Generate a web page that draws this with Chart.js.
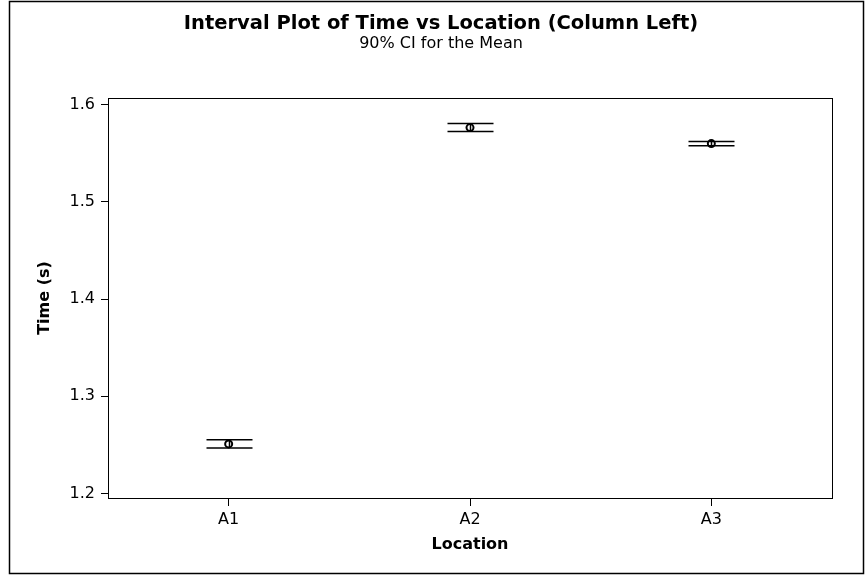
<!DOCTYPE html>
<html>
<head>
<meta charset="utf-8">
<title>Interval Plot of Time vs Location</title>
<script src="https://cdn.jsdelivr.net/npm/chart.js@4/dist/chart.umd.min.js"></script>
<style>
	html, body { margin: 0; padding: 0; background: #fff; }
	#wrap { position: relative; width: 865px; height: 575px; }
</style>
</head>
<body>
<div id="wrap"><canvas id="chart"></canvas></div>
<script>

// values
const locations = ['A1', 'A2', 'A3'];
const meanTime  = [1.2510, 1.5763, 1.5598];
const lowerCI   = [1.2467, 1.5722, 1.5577];
const upperCI   = [1.2554, 1.5804, 1.5619];
const yTicks    = [1.2, 1.3, 1.4, 1.5, 1.6];

const FONT = '"DejaVu Sans", Verdana, sans-serif';

// draws the CI whiskers (over the mean symbol) plus the plot frame and outer border
const intervalPlugin = {
	id: 'intervals',
	afterDatasetsDraw(chart){
		const ctx = chart.ctx;
		const xs = chart.scales.x;
		const ys = chart.scales.y;
		const half = 23;

		ctx.save();
		ctx.strokeStyle = '#000';
		ctx.lineWidth = 1.5;

		for (let i = 0; i < locations.length; i++) {
			const x = Math.round(xs.getPixelForValue(i)) + 0.5;
			const yLo = ys.getPixelForValue(lowerCI[i]);
			const yUp = ys.getPixelForValue(upperCI[i]);

			ctx.beginPath();
			ctx.moveTo(x - half, yUp); ctx.lineTo(x + half, yUp);
			ctx.moveTo(x - half, yLo); ctx.lineTo(x + half, yLo);
			ctx.moveTo(x, yUp); ctx.lineTo(x, yLo);
			ctx.stroke();
		}
		ctx.restore();
	},
	afterDraw(chart){
		const ctx = chart.ctx;
		const a = chart.chartArea;

		ctx.save();
		ctx.strokeStyle = '#000';
		ctx.lineWidth = 1;
		ctx.strokeRect(Math.round(a.left) + 0.5, Math.round(a.top) + 0.5,
			Math.round(a.right - a.left), Math.round(a.bottom - a.top));

		// outer graph border
		ctx.lineWidth = 1.5;
		ctx.strokeRect(9.5, 1.5, chart.width - 11, chart.height - 3);
		ctx.restore();
	}
};

new Chart(document.getElementById('chart'), {
	type: 'line',
	data: {
		labels: locations,
		datasets: [{
			label: 'Mean',
			data: meanTime,
			yAxisID: 'y',
			showLine: false,
			pointStyle: 'circle',
			pointRadius: 3.5,
			pointBorderWidth: 2,
			pointBorderColor: '#000',
			pointBackgroundColor: '#fff'
		}]
	},
	options: {
		responsive: true,
		maintainAspectRatio: false,
		animation: false,
		layout: { padding: { left: 17, right: 0, top: 0, bottom: 0 } },
		plugins: {
			legend: { display: false },
			tooltip: { enabled: false },
			title: {
				display: true,
				text: 'Interval Plot of Time vs Location (Column Left)',
				color: '#000',
				font: { family: FONT, size: 19.5, weight: 'bold', lineHeight: 1.2 },
				padding: { top: 12.3, bottom: 0 }
			},
			subtitle: {
				display: true,
				text: '90% CI for the Mean',
				color: '#000',
				font: { family: FONT, size: 16, lineHeight: 1 },
				padding: { top: 0.3, bottom: 46 }
			}
		},
		scales: {
			x: {
				type: 'category',
				offset: true,
				grid: { display: true, drawOnChartArea: false, drawTicks: true, tickLength: 8, color: '#000' },
				border: { display: false },
				ticks: { color: '#000', padding: 4, font: { family: FONT, size: 16 } },
				title: {
					display: true,
					text: 'Location',
					color: '#000',
					font: { family: FONT, size: 16, weight: 'bold', lineHeight: 1.2 },
					padding: { top: 0, bottom: 20.4 }
				},
				afterFit(scale){ scale.height = 77; }
			},
			y: {
				type: 'linear',
				position: 'left',
				min: 1.1954,
				max: 1.6067,
				afterBuildTicks(scale){
					scale.ticks = yTicks.map(v => ({ value: v }));
				},
				grid: { display: true, drawOnChartArea: false, drawTicks: true, tickLength: 7, color: '#000' },
				border: { display: false },
				ticks: {
					color: '#000',
					padding: 6,
					font: { family: FONT, size: 16 },
					callback: (v) => v.toFixed(1)
				},
				title: {
					display: true,
					text: 'Time (s)',
					color: '#000',
					font: { family: FONT, size: 16, weight: 'bold', lineHeight: 1.2 },
					padding: { top: 18.4, bottom: 0 }
				},
				afterFit(scale){ scale.width = 91; }
			},
			// empty right-hand axis, only keeps the margin right of the plot
			yRight: {
				type: 'linear',
				position: 'right',
				display: true,
				grid: { display: false },
				border: { display: false },
				ticks: { display: false },
				afterFit(scale){ scale.width = 33; }
			}
		}
	},
	plugins: [intervalPlugin]
});
</script>
</body>
</html>
